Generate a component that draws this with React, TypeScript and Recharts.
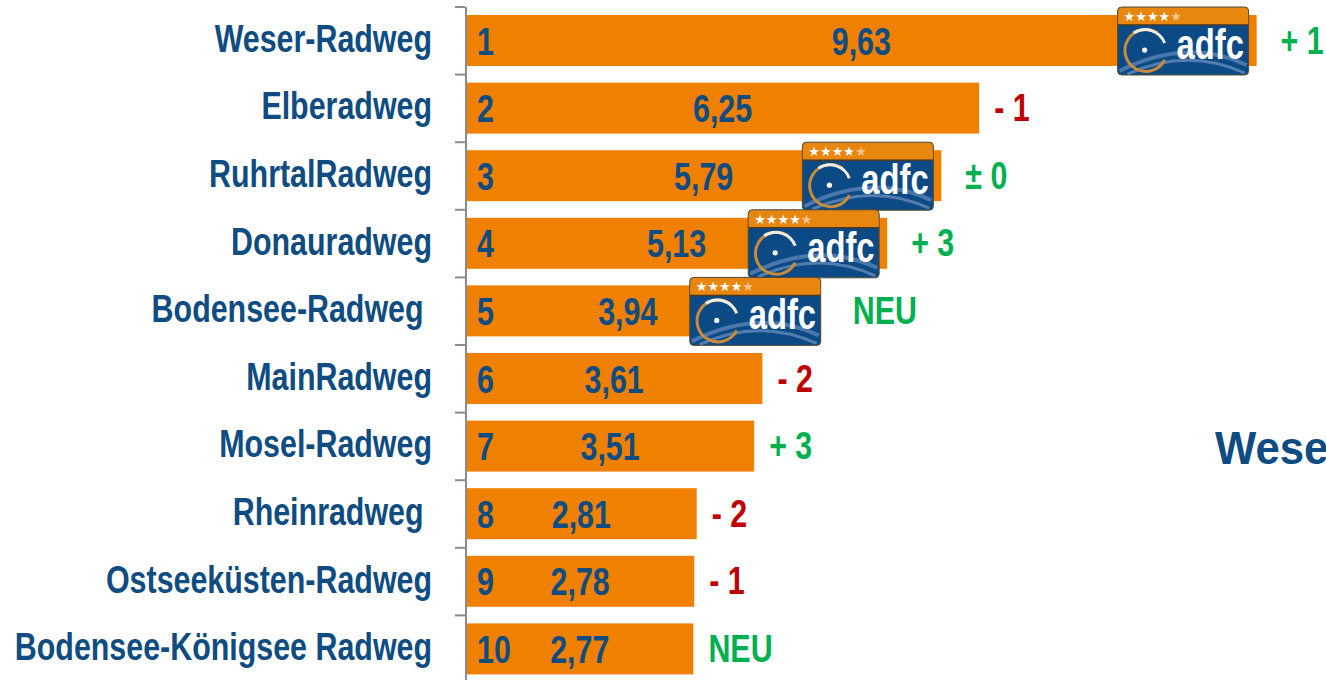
import React from "react";
import { BarChart, Bar, XAxis, YAxis } from "recharts";

const categories = [
  "Weser-Radweg",
  "Elberadweg",
  "RuhrtalRadweg",
  "Donauradweg",
  "Bodensee-Radweg ",
  "MainRadweg",
  "Mosel-Radweg",
  "Rheinradweg ",
  "Ostseeküsten-Radweg",
  "Bodensee-Königsee Radweg",
];
const values = [9.63, 6.25, 5.79, 5.13, 3.94, 3.61, 3.51, 2.81, 2.78, 2.77];
const ranks = [1, 2, 3, 4, 5, 6, 7, 8, 9, 10];
const changes = ["+ 1", "- 1", "± 0", "+ 3", "NEU", "- 2", "+ 3", "- 2", "- 1", "NEU"];
const certified = [true, false, true, true, true, false, false, false, false, false];

const data = categories.map((name, i) => ({
  name,
  value: values[i],
  rank: ranks[i],
  change: changes[i],
  certified: certified[i],
}));

const W = 1326;
const H = 683;
const TOP = 7;
const YW = 466;
const BLUE = "#0F4C81";
const ORANGE = "#EF8000";
const GREEN = "#00B050";
const RED = "#C00000";
const FONT = "'Liberation Sans', Arial, sans-serif";
const SX = 0.8;
const FS = 38;
const BAND = (H - TOP) / categories.length;

const fmt = (v: number) => v.toFixed(2).replace(".", ",");

function SText({ x, y, anchor = "start", fill, children, size = FS, sx = SX }: any) {
  return (
    <text
      transform={`translate(${x},${y}) scale(${sx},1)`}
      x={0}
      y={0}
      textAnchor={anchor}
      fill={fill}
      fontFamily={FONT}
      fontWeight="bold"
      fontSize={size}
      style={{ whiteSpace: "pre" }}
    >
      {children}
    </text>
  );
}

function Badge({ x, y }: { x: number; y: number }) {
  const w = 131;
  const h = 68;
  return (
    <g>
      <rect x={x} y={y} width={w} height={h} rx={4} fill="#0C4A86" stroke="#5d4a2e" strokeWidth={1} />
      <path
        d={`M${x + 2} ${y + h - 4} Q${x + 70} ${y + 30} ${x + w - 2} ${y + h - 10}`}
        stroke="#7f9ccc"
        strokeWidth={4}
        fill="none"
        opacity={0.55}
      />
      <path
        d={`M${x + 10} ${y + h - 1} Q${x + 70} ${y + 40} ${x + w - 4} ${y + h - 2}`}
        stroke="#a9bde0"
        strokeWidth={3}
        fill="none"
        opacity={0.45}
      />
      <rect x={x + 0.5} y={y + 0.5} width={w - 1} height={17} rx={4} fill="#E8870F" />
      <rect x={x + 0.5} y={y + 10} width={w - 1} height={7.5} fill="#E8870F" />
      <line x1={x + 1} x2={x + w - 1} y1={y + 18} y2={y + 18} stroke="#4a3a22" strokeWidth={1.5} />
      <text x={x + 6} y={y + 14} fontSize={13} fill="#ffffff" fontFamily="DejaVu Sans, sans-serif">
        ★★★★<tspan fill="#F6C48E">★</tspan>
      </text>
      <path
        d={`M${x + 40} ${y + 26} A21 21 0 1 0 ${x + 47} ${y + 53}`}
        stroke="#C98A3A"
        strokeWidth={3}
        fill="none"
      />
      <path
        d={`M${x + 16} ${y + 26} A21 21 0 0 1 ${x + 47} ${y + 36}`}
        stroke="#f1ece2"
        strokeWidth={3}
        fill="none"
      />
      <circle cx={x + 27} cy={y + 43} r={2.6} fill="#ffffff" />
      <SText x={x + 59} y={y + 52} fill="#ffffff" size={42} sx={0.78}>
        adfc
      </SText>
    </g>
  );
}

function BarShape(props: any) {
  const { x, y, width, height, payload } = props;
  const cy = y + height / 2;
  const barEnd = x + width;
  const center = x + width / 2;
  let badgeLeft = 0;
  let rightEdge = barEnd;
  if (payload.certified) {
    badgeLeft = Math.max(barEnd - 139, center + 62);
    rightEdge = badgeLeft + 131;
  }
  const changeX = payload.certified ? Math.max(barEnd + 16, rightEdge + 32) : barEnd + 15;
  const changeColor = payload.change.trim().startsWith("-") ? RED : GREEN;
  return (
    <g>
      <rect x={x} y={y} width={width} height={height} fill={ORANGE} />
      <SText x={x + 11} y={cy + 14} fill={BLUE}>
        {String(payload.rank)}
      </SText>
      <SText x={center} y={cy + 14} anchor="middle" fill={BLUE}>
        {fmt(payload.value)}
      </SText>
      {payload.certified ? <Badge x={badgeLeft} y={y - 8} /> : null}
      <SText x={changeX} y={cy + 13} fill={changeColor}>
        {payload.change}
      </SText>
    </g>
  );
}

function YTick(props: any) {
  const { y, payload, index } = props;
  const top = y - BAND / 2;
  return (
    <g>
      <line x1={YW - 11} x2={YW - 1} y1={top} y2={top} stroke="#8c8c8c" strokeWidth={2} />
      {index === categories.length - 1 ? (
        <line x1={YW - 11} x2={YW - 1} y1={top + BAND} y2={top + BAND} stroke="#8c8c8c" strokeWidth={2} />
      ) : null}
      <SText x={432} y={y + 11} anchor="end" fill={BLUE}>
        {payload.value}
      </SText>
    </g>
  );
}

export default function App() {
  return (
    <div
      style={{
        position: "absolute",
        left: 0,
        top: 0,
        width: W,
        height: 680,
        overflow: "hidden",
        background: "#ffffff",
      }}
    >
      <BarChart
        width={W}
        height={H}
        data={data}
        layout="vertical"
        margin={{ top: TOP, right: 39, bottom: 0, left: 0 }}
      >
        <XAxis type="number" domain={[0, 10]} hide />
        <YAxis
          type="category"
          dataKey="name"
          width={YW}
          axisLine={{ stroke: "#8c8c8c", strokeWidth: 2 }}
          tickLine={false}
          tick={<YTick />}
          interval={0}
        />
        <Bar dataKey="value" barSize={51} isAnimationActive={false} shape={<BarShape />} />
      </BarChart>
      <div
        style={{
          position: "absolute",
          left: 1215,
          top: 421,
          whiteSpace: "nowrap",
          fontFamily: FONT,
          fontWeight: "bold",
          fontSize: 46,
          color: BLUE,
          transform: "scaleX(0.95)",
          transformOrigin: "left top",
          lineHeight: "54px",
        }}
      >
        Weser-Radweg
      </div>
    </div>
  );
}
